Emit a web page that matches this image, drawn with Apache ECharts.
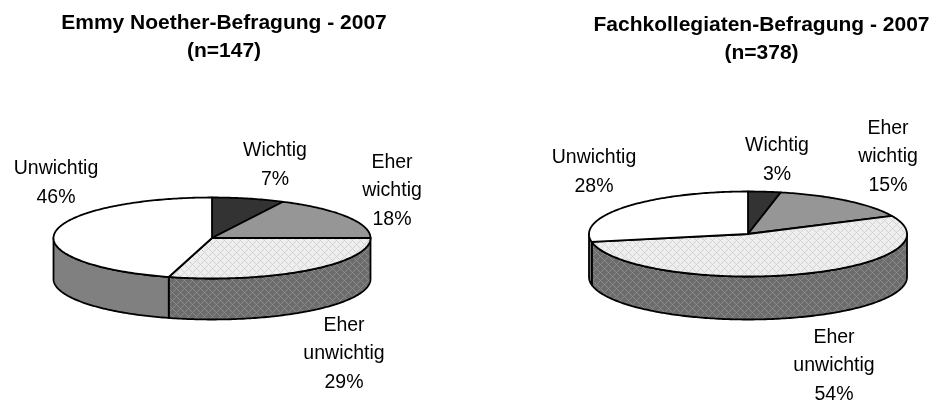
<!DOCTYPE html>
<html><head><meta charset="utf-8">
<style>html,body{margin:0;padding:0;background:#fff}#c{width:931px;height:403px}</style>
<script src="https://cdn.jsdelivr.net/npm/echarts@6/dist/echarts.min.js"></script>
</head><body><div id="c"></div>
<script>
var categories = ['Wichtig', 'Eher\nwichtig', 'Eher\nunwichtig', 'Unwichtig'];
var emmyValues = [7.4, 17.6, 29.4, 45.6];
var fachValues = [3.3, 14.7, 54, 28];
var emmyTitle = 'Emmy Noether-Befragung - 2007\n(n=147)';
var fachTitle = 'Fachkollegiaten-Befragung - 2007\n(n=378)';

var FONT = '"Liberation Sans", Arial, sans-serif';
function pattern(base, line) {
  var s = 8, cv = document.createElement('canvas');
  cv.width = s; cv.height = s;
  var g = cv.getContext('2d');
  g.fillStyle = base; g.fillRect(0, 0, s, s);
  g.fillStyle = line;
  for (var y = 0; y < s; y++) for (var x = 0; x < s; x++) {
    if ((x + y) % s === 0 || (x - y + s) % s === 0) g.fillRect(x, y, 1, 1);
  }
  return { image: cv, repeat: 'repeat' };
}
var lightHatch = pattern('#eeeeee', '#d2d2d2');
var darkHatch = pattern('#6c6c6c', '#8a8a8a');
var topFills = ['#333333', '#969696', lightHatch, '#ffffff'];
var sideFills = ['#2a2a2a', '#7d7d7d', darkHatch, '#808080'];

var emmyLayout = { cx: 212, cy: 238, rx: 158.5, ry: 40.5, depth: 41,
  labels: [[275, 165], [392, 191], [344, 354], [56, 183]] };
var fachLayout = { cx: 748, cy: 234, rx: 159, ry: 42.5, depth: 43,
  labels: [[777, 160], [888, 157], [834, 366], [594, 172]] };

function pt(L, t, dy) {
  var a = t * 3.6 * Math.PI / 180;
  return [L.cx + L.rx * Math.sin(a), L.cy - L.ry * Math.cos(a) + (dy || 0)];
}
function toData(values) {
  var sum = 0;
  return values.map(function (v) { var r = [v, sum]; sum += v; return r; });
}
function sideSeries(values, L) {
  return {
    type: 'custom', coordinateSystem: 'none', silent: true, z: 1, animation: false,
    data: toData(values),
    renderItem: function (p, api) {
      var a = Math.max(api.value(1), 25), b = Math.min(api.value(1) + api.value(0), 75);
      if (b <= a) return { type: 'group', children: [] };
      var pts = [], t;
      for (t = a; t < b; t += 0.25) pts.push(pt(L, t));
      pts.push(pt(L, b));
      for (t = b; t > a; t -= 0.25) pts.push(pt(L, t, L.depth));
      pts.push(pt(L, a, L.depth));
      return { type: 'polygon', shape: { points: pts },
        style: { fill: sideFills[p.dataIndex], stroke: '#000', lineWidth: 1.8, lineJoin: 'round' } };
    }
  };
}
function topSeries(values, L) {
  return {
    type: 'custom', coordinateSystem: 'none', silent: true, z: 2, animation: false,
    data: toData(values),
    renderItem: function (p, api) {
      var a = api.value(1), b = a + api.value(0), pts = [[L.cx, L.cy]], t;
      for (t = a; t < b; t += 0.25) pts.push(pt(L, t));
      pts.push(pt(L, b));
      var lab = L.labels[p.dataIndex];
      return { type: 'group', children: [
        { type: 'polygon', shape: { points: pts },
          style: { fill: topFills[p.dataIndex], stroke: '#000', lineWidth: 1.8, lineJoin: 'round' } },
        { type: 'text', x: lab[0], y: lab[1], z2: 10,
          style: { text: categories[p.dataIndex] + '\n' + Math.round(api.value(0)) + '%',
            x: 0, y: 0, align: 'center', verticalAlign: 'middle',
            font: '19.5px ' + FONT, lineHeight: 28.5, fill: '#000' } }
      ] };
    }
  };
}
var titleStyle = { color: '#000', fontFamily: FONT, fontSize: 21, fontWeight: 'bold', lineHeight: 28, align: 'center' };
var chart = echarts.init(document.getElementById('c'), null, { renderer: 'canvas', width: 931, height: 403 });
chart.setOption({
  animation: false,
  backgroundColor: '#fff',
  title: [
    { text: emmyTitle, left: 224, top: 9, textAlign: 'center', padding: 0, textStyle: titleStyle },
    { text: fachTitle, left: 761.5, top: 11, textAlign: 'center', padding: 0, textStyle: titleStyle }
  ],
  series: [
    sideSeries(emmyValues, emmyLayout), topSeries(emmyValues, emmyLayout),
    sideSeries(fachValues, fachLayout), topSeries(fachValues, fachLayout)
  ]
});
</script></body></html>
